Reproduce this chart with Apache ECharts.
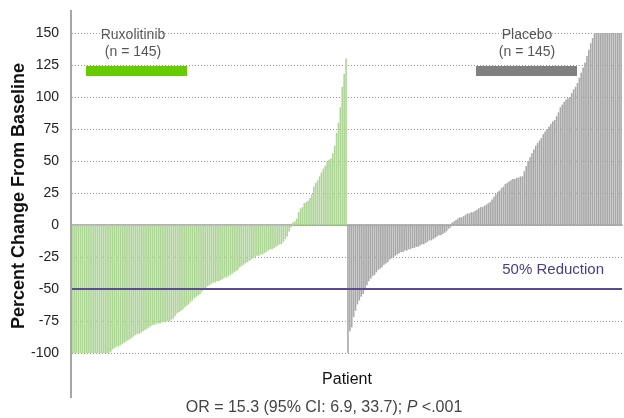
<!DOCTYPE html>
<html><head><meta charset="utf-8">
<script src="https://cdn.jsdelivr.net/npm/echarts@6/dist/echarts.min.js"></script>
<style>html,body{margin:0;padding:0;background:#fff}#c{width:624px;height:418px}</style>
</head><body><div id="c"></div>
<script>
// Percent change from baseline, sorted per arm (capped display at 150)
const ruxolitinib = [
 -100,-100,-100,-100,-100,-100,-100,-100,-100,-100,
 -100,-100,-100,-100,-100,-100,-100,-100,-100,-100,
 -99,-97,-96,-95,-95,-94,-93,-92,-91,-90,
 -89,-88,-87,-86,-85,-85,-84,-83,-82,-81,
 -80,-79,-78,-78,-77,-77,-77,-76,-76,-76,
 -75,-75,-74,-73,-71,-69,-68,-67,-66,-64,
 -63,-62,-60,-59,-57,-56,-55,-54,-52,-51,
 -50,-48,-47,-46,-45,-45,-44,-44,-43,-42,
 -41,-41,-40,-39,-38,-37,-36,-35,-33,-32,
 -31,-30,-29,-28,-27,-26,-25,-24,-24,-23,
 -23,-22,-21,-20,-19,-19,-18,-17,-16,-15,
 -15,-13,-11,-9,-5,-2,
 2,3,5,10,13,14,17,18,19,21,
 24,30,33,35,38,41,44,46,49,51,
 52,56,62,72,80,92,108,118,130
];
const placebo = [
 -100,-83,-80,-72,-67,-62,-59,-56,-54,-51,
 -47,-44,-42,-40,-39,-37,-35,-34,-33,-31,
 -30,-29,-27,-26,-25,-24,-23,-22,-21,-21,
 -20,-20,-19,-19,-18,-18,-17,-17,-16,-15,
 -15,-14,-13,-12,-12,-11,-10,-9,-8,-8,
 -7,-6,-5,-3,-2,2,3,4,5,6,
 6,7,8,9,9,10,10,11,12,13,
 14,14,15,16,17,18,20,22,24,26,
 27,29,30,32,33,34,35,36,36,37,
 37,38,38,42,46,50,53,56,59,62,
 64,66,68,71,73,75,77,79,81,82,
 85,88,92,94,96,98,99,100,103,106,
 108,111,115,119,123,127,132,137,142,146,
 150,150,150,150,150,150,150,150,150,150,
 150,150,150,150,150
];
const yTicks = {min: -100, max: 150, step: 25};
const reductionLevel = -50;
const armLabels = ['Ruxolitinib', 'Placebo'];
const armN = [145, 145];
const yTitle = 'Percent Change From Baseline';

const total = ruxolitinib.length + placebo.length;
const categories = Array.from({length: total}, (_, i) => String(i + 1));
const ruxData = ruxolitinib.concat(new Array(placebo.length).fill(null));
const plaData = new Array(ruxolitinib.length).fill(null).concat(placebo);

const chart = echarts.init(document.getElementById('c'), null, {renderer: 'canvas'});
const FONT = 'Liberation Sans, Arial, sans-serif';
chart.setOption({
  animation: false,
  backgroundColor: '#fff',
  grid: {left: 72, right: 2, top: 33, bottom: 65, containLabel: false, outerBoundsMode: 'none'},
  xAxis: {
    type: 'category', data: categories,
    axisLine: {onZero: true, lineStyle: {color: '#9a9a9a', width: 1.5}},
    axisTick: {show: false}, axisLabel: {show: false}, splitLine: {show: false}
  },
  yAxis: {
    type: 'value', min: yTicks.min, max: yTicks.max, interval: yTicks.step,
    axisLine: {show: false}, axisTick: {show: false},
    axisLabel: {fontSize: 14, color: '#222', margin: 13, fontFamily: FONT},
    splitLine: {show: true, lineStyle: {color: '#9a9a9a', type: [1, 2], width: 1}}
  },
  series: [
    {
      name: armLabels[0], type: 'bar', data: ruxData,
      barGap: '-100%', barCategoryGap: '15%',
      itemStyle: {color: '#add595'},
      markLine: {
        silent: true, symbol: 'none',
        lineStyle: {color: '#5a4a98', width: 2, type: 'solid'},
        label: {show: true, position: 'insideEndTop', formatter: '50% Reduction',
          color: '#4a3c88', fontSize: 15, fontFamily: FONT, distance: [18, 12]},
        data: [{yAxis: reductionLevel}]
      }
    },
    {
      name: armLabels[1], type: 'bar', data: plaData,
      barGap: '-100%', barCategoryGap: '15%',
      itemStyle: {color: '#a8a8a8'}
    }
  ],
  graphic: [
    {type: 'line', shape: {x1: 71, y1: 10, x2: 71, y2: 398}, style: {stroke: '#a6a6a6', lineWidth: 2}, z: 100},
    {type: 'text', x: 19, y: 196, rotation: Math.PI / 2, style: {text: yTitle, fill: '#111', font: 'bold 18px ' + FONT, align: 'center', verticalAlign: 'middle'}},
    {type: 'text', x: 133, y: 35, style: {text: armLabels[0], fill: '#555', font: '14px ' + FONT, align: 'center', verticalAlign: 'middle'}},
    {type: 'text', x: 133, y: 52, style: {text: '(n = ' + armN[0] + ')', fill: '#555', font: '14px ' + FONT, align: 'center', verticalAlign: 'middle'}},
    {type: 'rect', shape: {x: 86, y: 66, width: 101, height: 10}, style: {fill: '#66cc00'}},
    {type: 'text', x: 527, y: 35, style: {text: armLabels[1], fill: '#555', font: '14px ' + FONT, align: 'center', verticalAlign: 'middle'}},
    {type: 'text', x: 527, y: 52, style: {text: '(n = ' + armN[1] + ')', fill: '#555', font: '14px ' + FONT, align: 'center', verticalAlign: 'middle'}},
    {type: 'rect', shape: {x: 476, y: 66, width: 101, height: 10}, style: {fill: '#808080'}},
    {type: 'text', x: 347, y: 380, style: {text: 'Patient', fill: '#111', font: '16px ' + FONT, align: 'center', verticalAlign: 'middle'}},
    {type: 'text', x: 324, y: 408, style: {
      text: 'OR = 15.3 (95% CI: 6.9, 33.7); {i|P} <.001', fill: '#444', font: '16px ' + FONT,
      align: 'center', verticalAlign: 'middle',
      rich: {i: {fontStyle: 'italic', fontSize: 16, fontFamily: FONT, fill: '#444'}}
    }}
  ]
});
</script>
</body></html>
